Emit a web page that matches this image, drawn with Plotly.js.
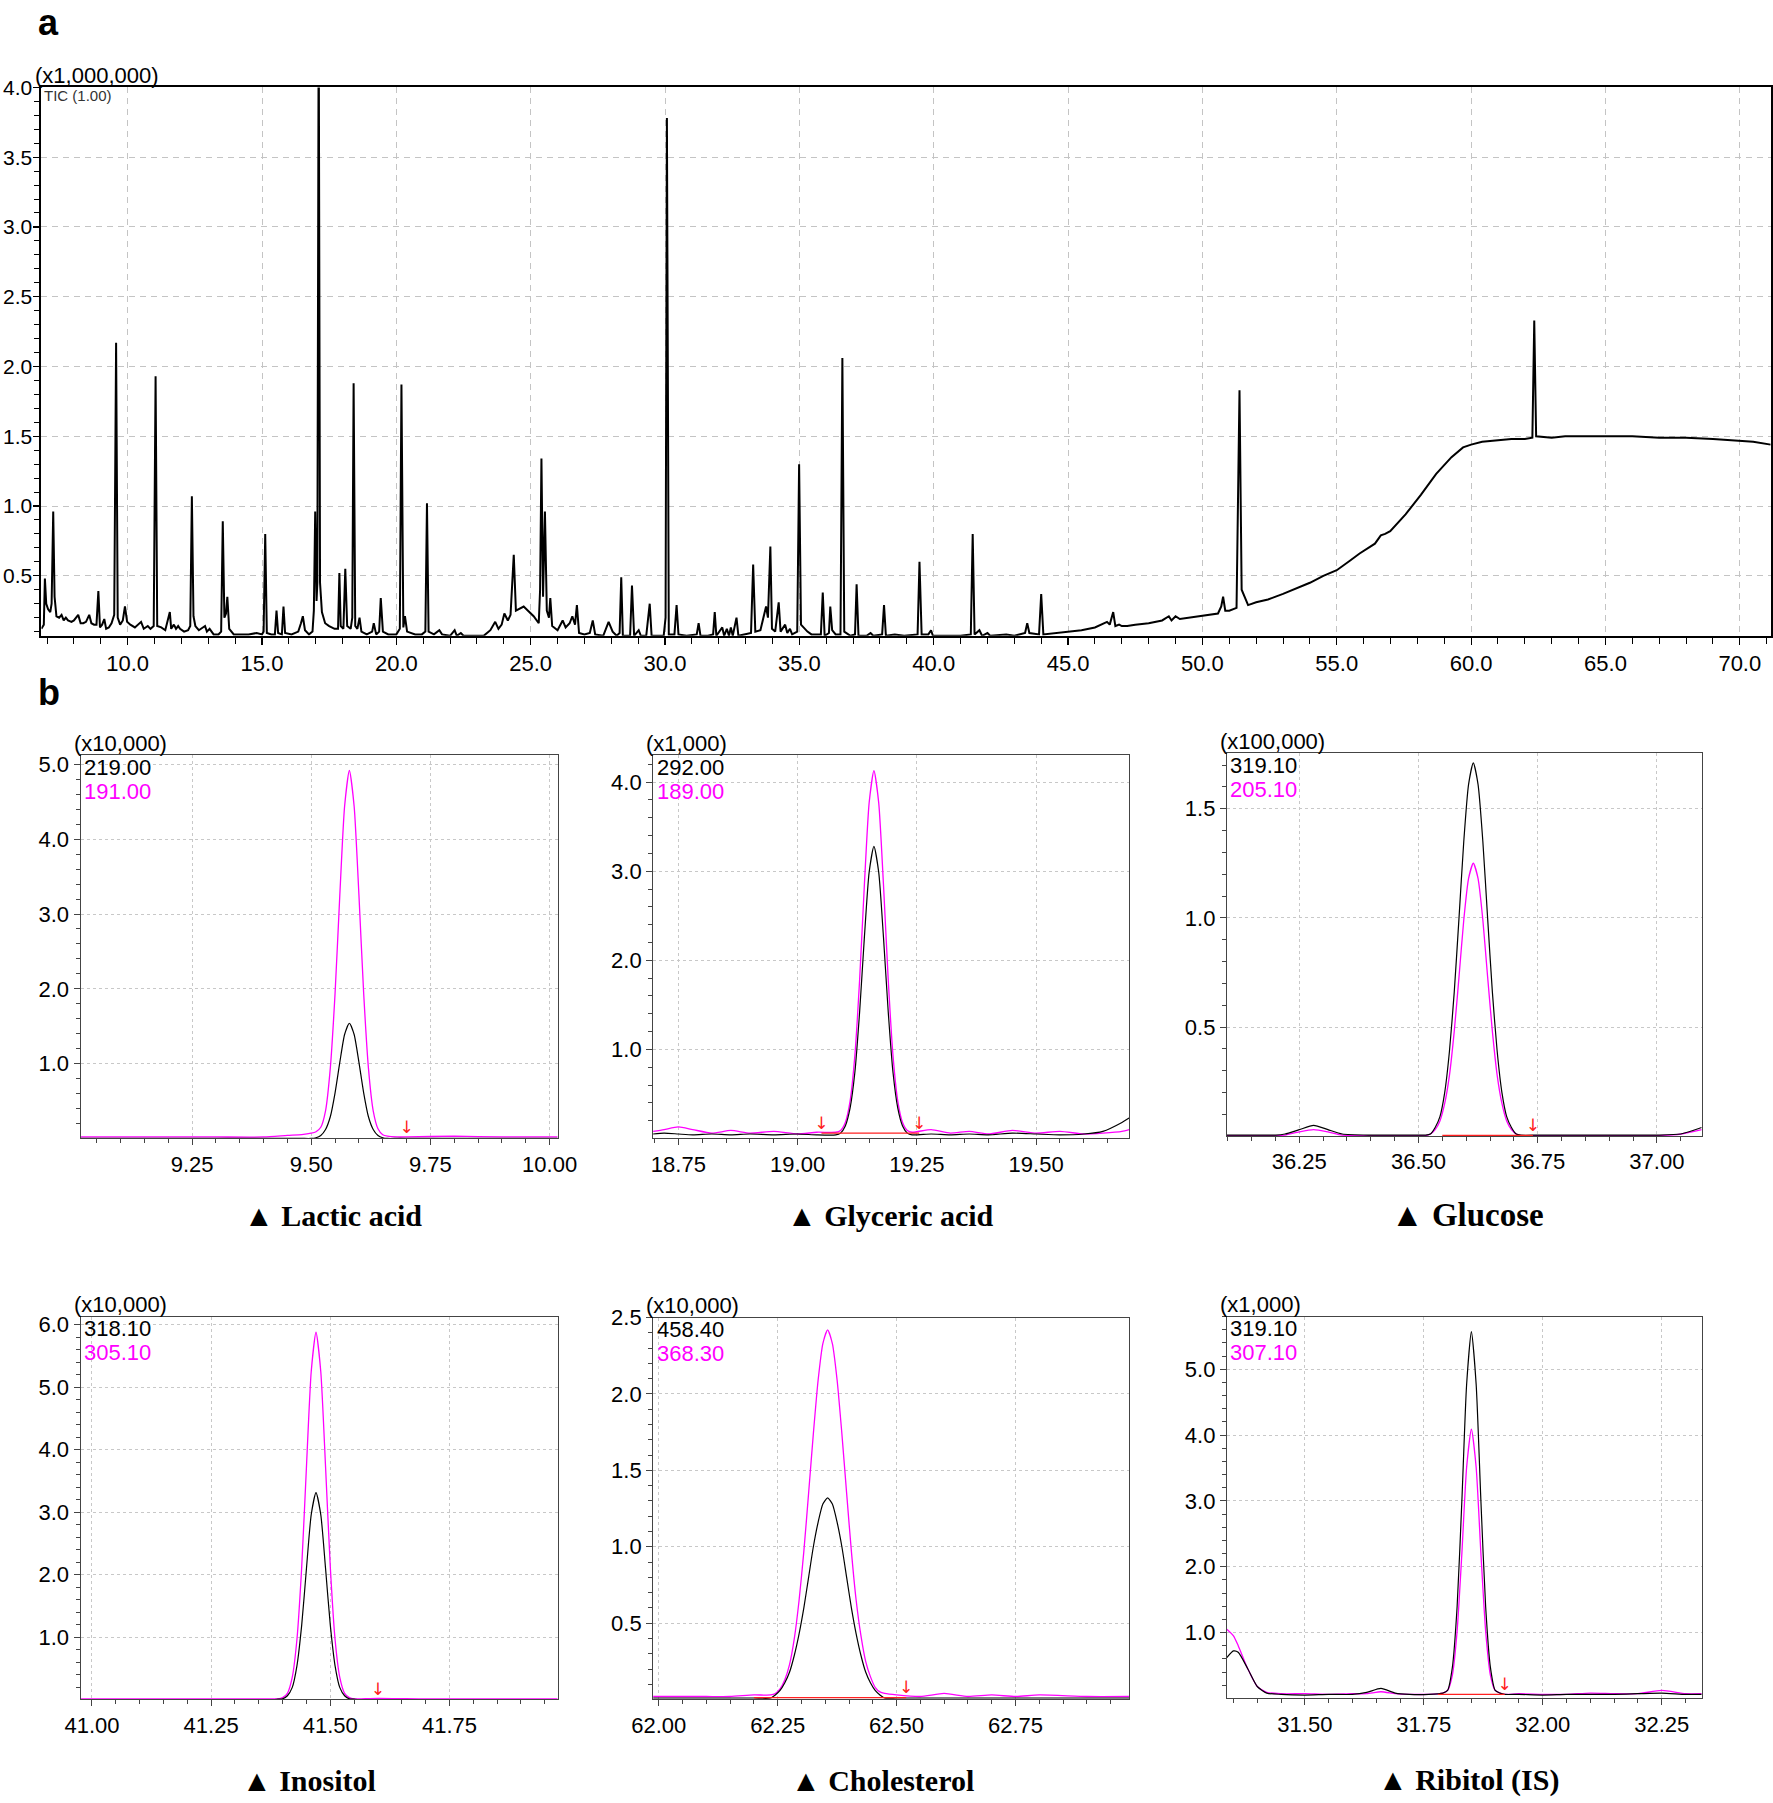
<!DOCTYPE html>
<html>
<head>
<meta charset="utf-8">
<script src="https://cdn.plot.ly/plotly-3.0.1.min.js"></script>
<style>
  html, body { margin: 0; padding: 0; background: #fff; }
  #chart { width: 1773px; height: 1803px; }
</style>
</head>
<body>
<div id="chart"></div>
<script>
// ---- a: total ion chromatogram (x1,000,000) ----
const ticTime = [
  6.79, 6.88, 6.92, 6.97, 7.04, 7.12, 7.17, 7.23, 7.28, 7.35,
  7.45, 7.54, 7.62, 7.70, 7.78, 7.91, 8.00, 8.16, 8.25, 8.35,
  8.45, 8.57, 8.65, 8.75, 8.84, 8.91, 8.97, 9.05, 9.13, 9.20,
  9.30, 9.40, 9.50, 9.57, 9.63, 9.72, 9.82, 9.90, 9.98, 10.10,
  10.27, 10.50, 10.60, 10.75, 10.85, 10.97, 11.04, 11.10, 11.25, 11.40,
  11.57, 11.62, 11.72, 11.80, 11.88, 11.95, 12.10, 12.25, 12.33, 12.39,
  12.45, 12.52, 12.65, 12.88, 12.95, 13.05, 13.20, 13.38, 13.48, 13.54,
  13.60, 13.66, 13.71, 13.78, 13.95, 14.20, 14.50, 14.80, 15.00, 15.06,
  15.12, 15.18, 15.35, 15.48, 15.54, 15.60, 15.74, 15.80, 15.86, 16.10,
  16.35, 16.45, 16.52, 16.60, 16.75, 16.88, 16.93, 16.98, 17.03, 17.06,
  17.11, 17.16, 17.23, 17.35, 17.50, 17.70, 17.83, 17.88, 17.93, 18.03,
  18.10, 18.17, 18.30, 18.36, 18.41, 18.47, 18.55, 18.63, 18.70, 18.90,
  19.10, 19.16, 19.25, 19.36, 19.42, 19.50, 19.70, 20.00, 20.13, 20.19,
  20.26, 20.32, 20.40, 20.70, 20.95, 21.08, 21.14, 21.20, 21.40, 21.60,
  21.70, 22.00, 22.17, 22.25, 22.40, 22.50, 23.00, 23.25, 23.50, 23.60,
  23.68, 23.80, 23.92, 24.02, 24.15, 24.25, 24.37, 24.45, 24.62, 24.74,
  24.90, 25.11, 25.30, 25.35, 25.40, 25.46, 25.53, 25.60, 25.68, 25.73,
  25.80, 26.00, 26.19, 26.30, 26.45, 26.55, 26.65, 26.72, 26.80, 27.00,
  27.20, 27.31, 27.40, 27.70, 27.90, 27.96, 28.05, 28.20, 28.31, 28.37,
  28.43, 28.70, 28.77, 28.85, 29.02, 29.10, 29.30, 29.43, 29.50, 29.95,
  30.02, 30.07, 30.14, 30.35, 30.43, 30.50, 30.80, 31.18, 31.25, 31.32,
  31.60, 31.79, 31.85, 31.91, 32.13, 32.20, 32.30, 32.38, 32.45, 32.52,
  32.66, 32.73, 33.00, 33.20, 33.28, 33.36, 33.55, 33.76, 33.83, 33.92,
  33.98, 34.10, 34.23, 34.30, 34.47, 34.55, 34.65, 34.73, 34.92, 34.99,
  35.06, 35.15, 35.30, 35.45, 35.80, 35.87, 35.94, 36.10, 36.15, 36.22,
  36.35, 36.53, 36.60, 36.67, 36.90, 37.07, 37.13, 37.20, 37.50, 37.65,
  37.75, 38.08, 38.15, 38.22, 38.55, 38.90, 39.40, 39.47, 39.55, 39.80,
  39.90, 39.97, 40.50, 41.00, 41.38, 41.45, 41.52, 41.70, 41.80, 42.00,
  42.10, 42.70, 43.00, 43.40, 43.48, 43.56, 43.92, 44.00, 44.08, 44.50,
  45.00, 45.50, 46.00, 46.45, 46.55, 46.68, 46.76, 46.90, 47.00, 47.20,
  47.50, 48.00, 48.50, 48.75, 48.85, 49.00, 49.16, 49.50, 50.00, 50.30,
  50.58, 50.70, 50.77, 50.85, 51.00, 51.27, 51.38, 51.46, 51.55, 51.70,
  52.00, 52.44, 53.00, 53.50, 54.00, 54.50, 55.00, 55.50, 55.85, 56.42,
  56.55, 56.64, 56.80, 56.99, 57.56, 58.13, 58.70, 59.27, 59.70, 60.00,
  60.41, 61.00, 61.50, 62.00, 62.28, 62.35, 62.42, 63.00, 63.50, 64.00,
  64.50, 65.00, 66.00, 67.00, 68.00, 69.00, 70.00, 70.50, 71.15
];
const ticSignal = [
  0.12, 0.15, 0.48, 0.30, 0.26, 0.24, 0.30, 0.96, 0.35, 0.21,
  0.20, 0.22, 0.18, 0.20, 0.18, 0.17, 0.18, 0.22, 0.16, 0.16,
  0.17, 0.22, 0.16, 0.15, 0.15, 0.39, 0.13, 0.15, 0.19, 0.12,
  0.13, 0.16, 0.22, 2.17, 0.20, 0.15, 0.18, 0.28, 0.17, 0.15,
  0.13, 0.17, 0.12, 0.14, 0.12, 0.14, 1.93, 0.14, 0.13, 0.11,
  0.24, 0.12, 0.15, 0.12, 0.14, 0.12, 0.10, 0.11, 0.14, 1.07,
  0.21, 0.14, 0.11, 0.14, 0.10, 0.12, 0.08, 0.08, 0.10, 0.89,
  0.20, 0.23, 0.35, 0.12, 0.08, 0.08, 0.08, 0.09, 0.08, 0.10,
  0.80, 0.09, 0.08, 0.08, 0.25, 0.09, 0.08, 0.28, 0.09, 0.08,
  0.10, 0.16, 0.21, 0.11, 0.08, 0.10, 0.25, 0.96, 0.32, 0.45,
  4.60, 0.45, 0.24, 0.16, 0.14, 0.12, 0.12, 0.52, 0.14, 0.12,
  0.55, 0.14, 0.12, 0.20, 1.88, 0.14, 0.12, 0.20, 0.10, 0.08,
  0.10, 0.16, 0.08, 0.10, 0.34, 0.10, 0.08, 0.08, 0.12, 1.87,
  0.13, 0.21, 0.10, 0.08, 0.08, 0.10, 1.02, 0.10, 0.08, 0.11,
  0.08, 0.07, 0.11, 0.07, 0.09, 0.07, 0.07, 0.07, 0.11, 0.14,
  0.17, 0.12, 0.15, 0.23, 0.18, 0.22, 0.65, 0.25, 0.27, 0.28,
  0.25, 0.21, 0.16, 0.40, 1.34, 0.35, 0.96, 0.25, 0.20, 0.34,
  0.14, 0.11, 0.18, 0.13, 0.16, 0.21, 0.15, 0.29, 0.09, 0.08,
  0.09, 0.18, 0.08, 0.07, 0.17, 0.14, 0.10, 0.07, 0.09, 0.49,
  0.07, 0.07, 0.43, 0.07, 0.11, 0.07, 0.07, 0.30, 0.07, 0.07,
  0.20, 3.78, 0.08, 0.08, 0.29, 0.08, 0.07, 0.08, 0.16, 0.07,
  0.07, 0.08, 0.24, 0.07, 0.13, 0.07, 0.12, 0.07, 0.13, 0.07,
  0.20, 0.07, 0.08, 0.09, 0.58, 0.10, 0.11, 0.28, 0.20, 0.71,
  0.12, 0.10, 0.31, 0.10, 0.15, 0.09, 0.12, 0.08, 0.10, 1.30,
  0.15, 0.13, 0.10, 0.08, 0.08, 0.38, 0.07, 0.09, 0.28, 0.11,
  0.08, 0.08, 2.06, 0.10, 0.07, 0.08, 0.44, 0.07, 0.07, 0.09,
  0.07, 0.08, 0.29, 0.07, 0.08, 0.07, 0.08, 0.60, 0.08, 0.08,
  0.11, 0.07, 0.07, 0.07, 0.08, 0.80, 0.08, 0.11, 0.07, 0.09,
  0.07, 0.08, 0.07, 0.09, 0.16, 0.09, 0.08, 0.37, 0.08, 0.09,
  0.10, 0.11, 0.13, 0.17, 0.15, 0.24, 0.14, 0.15, 0.14, 0.14,
  0.15, 0.16, 0.18, 0.21, 0.18, 0.21, 0.19, 0.20, 0.21, 0.22,
  0.23, 0.28, 0.35, 0.25, 0.25, 0.27, 1.83, 0.40, 0.36, 0.29,
  0.31, 0.33, 0.37, 0.41, 0.45, 0.50, 0.54, 0.61, 0.66, 0.73,
  0.77, 0.79, 0.80, 0.82, 0.94, 1.08, 1.23, 1.35, 1.42, 1.44,
  1.46, 1.47, 1.48, 1.48, 1.49, 2.33, 1.50, 1.49, 1.50, 1.50,
  1.50, 1.50, 1.50, 1.49, 1.49, 1.48, 1.47, 1.46, 1.44
];

// ---- b: extracted ion chromatograms ----
// Lactic acid (x10,000): m/z 219.00 black, 191.00 magenta
const lacticRt = [9.016, 9.10, 9.20, 9.30, 9.40, 9.45, 9.48, 9.50, 9.51, 9.52, 9.53, 9.54, 9.55, 9.56, 9.57,
  9.58, 9.59, 9.60, 9.61, 9.62, 9.63, 9.64, 9.65, 9.66, 9.68, 9.70, 9.80, 9.90, 10.017];
const lacticIon219 = [0.00, 0.00, 0.00, 0.00, 0.00, 0.00, 0.00, 0.00, 0.01, 0.04, 0.12, 0.29, 0.61, 1.02, 1.39,
  1.54, 1.39, 1.02, 0.61, 0.29, 0.12, 0.04, 0.01, 0.00, 0.00, 0.00, 0.00, 0.00, 0.00];
const lacticIon191 = [0.02, 0.02, 0.02, 0.02, 0.02, 0.04, 0.05, 0.07, 0.09, 0.15, 0.37, 0.94, 1.94, 3.26, 4.44,
  4.92, 4.44, 3.26, 1.94, 0.94, 0.37, 0.13, 0.05, 0.03, 0.02, 0.02, 0.03, 0.02, 0.02];
const lacticBaseRt = [];
const lacticBaseLevel = [];
const lacticMarkRt = [9.70];
const lacticMarkLevel = [0.02];

// Glyceric acid (x1,000): 292.00 black, 189.00 magenta
const glycericRt = [18.697, 18.72, 18.75, 18.78, 18.82, 18.86, 18.90, 18.95, 19.00, 19.04,
  19.08, 19.09, 19.10, 19.11, 19.12, 19.13, 19.14, 19.15, 19.16, 19.17, 19.18, 19.19, 19.20, 19.21, 19.22, 19.23, 19.24,
  19.28, 19.32, 19.36, 19.40, 19.45, 19.50, 19.55, 19.60, 19.64, 19.68, 19.695];
const glycericIon292 = [0.05, 0.06, 0.05, 0.04, 0.05, 0.04, 0.05, 0.04, 0.05, 0.04,
  0.04, 0.06, 0.14, 0.34, 0.74, 1.42, 2.26, 2.99, 3.28, 2.99, 2.26, 1.42, 0.74, 0.34, 0.14, 0.06, 0.04,
  0.05, 0.04, 0.05, 0.04, 0.06, 0.05, 0.04, 0.05, 0.08, 0.18, 0.23];
const glycericIon189 = [0.08, 0.10, 0.13, 0.10, 0.06, 0.09, 0.06, 0.08, 0.05, 0.07,
  0.07, 0.09, 0.18, 0.42, 0.93, 1.78, 2.85, 3.77, 4.13, 3.77, 2.85, 1.78, 0.93, 0.42, 0.18, 0.09, 0.07,
  0.10, 0.06, 0.08, 0.05, 0.09, 0.06, 0.08, 0.05, 0.06, 0.08, 0.10];
const glycericBaseRt = [19.05, 19.255];
const glycericBaseLevel = [0.06, 0.06];
const glycericMarkRt = [19.05, 19.255];
const glycericMarkLevel = [0.06, 0.06];

// Glucose (x100,000): 319.10 black, 205.10 magenta
const glucoseRt = [36.098, 36.15, 36.20, 36.22, 36.25, 36.28, 36.31, 36.34, 36.40, 36.45, 36.50,
  36.515, 36.525, 36.535, 36.545, 36.555, 36.565, 36.575, 36.585, 36.595, 36.605, 36.615,
  36.625, 36.635, 36.645, 36.655, 36.665, 36.675, 36.685, 36.695, 36.705, 36.715,
  36.75, 36.80, 36.90, 37.00, 37.05, 37.094];
const glucoseIon319 = [0.005, 0.005, 0.005, 0.01, 0.03, 0.05, 0.03, 0.01, 0.005, 0.005, 0.005,
  0.005, 0.01, 0.04, 0.09, 0.20, 0.39, 0.66, 1.00, 1.35, 1.61, 1.71,
  1.61, 1.35, 1.00, 0.66, 0.39, 0.20, 0.09, 0.04, 0.01, 0.005,
  0.005, 0.005, 0.005, 0.005, 0.01, 0.04];
const glucoseIon205 = [0.003, 0.003, 0.003, 0.005, 0.02, 0.03, 0.02, 0.005, 0.003, 0.003, 0.003,
  0.003, 0.01, 0.03, 0.07, 0.15, 0.28, 0.48, 0.73, 0.99, 1.18, 1.25,
  1.18, 0.99, 0.73, 0.48, 0.28, 0.15, 0.07, 0.03, 0.01, 0.003,
  0.003, 0.003, 0.003, 0.003, 0.01, 0.03];
const glucoseBaseRt = [36.55, 36.74];
const glucoseBaseLevel = [0.004, 0.004];
const glucoseMarkRt = [36.74];
const glucoseMarkLevel = [0.004];

// Inositol (x10,000): 318.10 black, 305.10 magenta
const inositolRt = [40.976, 41.05, 41.10, 41.20, 41.30, 41.38,
  41.39, 41.40, 41.41, 41.42, 41.43, 41.44, 41.45, 41.46, 41.47, 41.48, 41.49, 41.50, 41.51, 41.52, 41.53, 41.54, 41.55,
  41.56, 41.60, 41.70, 41.80, 41.90, 41.977];
const inositolIon318 = [0.00, 0.00, 0.00, 0.00, 0.00, 0.00,
  0.005, 0.01, 0.06, 0.19, 0.54, 1.19, 2.10, 2.96, 3.31, 2.96, 2.10, 1.19, 0.54, 0.19, 0.06, 0.01, 0.005,
  0.00, 0.00, 0.00, 0.00, 0.00, 0.00];
const inositolIon305 = [0.01, 0.01, 0.01, 0.01, 0.01, 0.01,
  0.01, 0.03, 0.10, 0.35, 0.96, 2.12, 3.73, 5.25, 5.88, 5.25, 3.73, 2.12, 0.96, 0.35, 0.10, 0.03, 0.01,
  0.01, 0.02, 0.01, 0.01, 0.01, 0.01];
const inositolBaseRt = [];
const inositolBaseLevel = [];
const inositolMarkRt = [41.60];
const inositolMarkLevel = [0.01];

// Cholesterol (x10,000): 458.40 black, 368.30 magenta
const cholesterolRt = [61.988, 62.05, 62.10, 62.15, 62.20,
  62.235, 62.245, 62.255, 62.265, 62.275, 62.285, 62.295, 62.305, 62.315, 62.325, 62.335, 62.345, 62.355,
  62.365, 62.375, 62.385, 62.395, 62.405, 62.415, 62.425, 62.435, 62.445, 62.455, 62.465, 62.475,
  62.50, 62.55, 62.60, 62.65, 62.70, 62.75, 62.80, 62.90, 62.989];
const cholesterolIon458 = [0.01, 0.01, 0.01, 0.01, 0.01,
  0.01, 0.03, 0.06, 0.11, 0.18, 0.29, 0.43, 0.60, 0.80, 1.00, 1.16, 1.28, 1.32,
  1.28, 1.16, 1.00, 0.80, 0.60, 0.43, 0.29, 0.18, 0.11, 0.06, 0.03, 0.01,
  0.01, 0.01, 0.01, 0.01, 0.01, 0.01, 0.01, 0.01, 0.01];
const cholesterolIon368 = [0.02, 0.02, 0.02, 0.02, 0.03,
  0.03, 0.04, 0.07, 0.13, 0.23, 0.40, 0.65, 0.97, 1.35, 1.74, 2.09, 2.33, 2.42,
  2.33, 2.09, 1.74, 1.35, 0.97, 0.65, 0.42, 0.25, 0.15, 0.08, 0.05, 0.04,
  0.03, 0.02, 0.04, 0.02, 0.03, 0.02, 0.03, 0.02, 0.02];
const cholesterolBaseRt = [62.20, 62.52];
const cholesterolBaseLevel = [0.012, 0.012];
const cholesterolMarkRt = [62.52];
const cholesterolMarkLevel = [0.012];

// Ribitol, internal standard (x1,000): 319.10 black, 307.10 magenta
const ribitolRt = [31.336, 31.35, 31.36, 31.38, 31.40, 31.42, 31.45, 31.50, 31.55, 31.60, 31.63, 31.66, 31.69, 31.72, 31.76,
  31.79, 31.80, 31.81, 31.82, 31.83, 31.84, 31.85, 31.86, 31.87, 31.88, 31.89, 31.90, 31.91,
  31.92, 31.95, 32.00, 32.05, 32.10, 32.15, 32.20, 32.25, 32.30, 32.334];
const ribitolIon319 = [0.62, 0.72, 0.70, 0.45, 0.18, 0.08, 0.06, 0.05, 0.06, 0.06, 0.09, 0.15, 0.08, 0.06, 0.06,
  0.08, 0.12, 0.47, 1.39, 3.00, 4.77, 5.57, 4.77, 3.00, 1.39, 0.47, 0.12, 0.08,
  0.06, 0.06, 0.05, 0.06, 0.06, 0.06, 0.07, 0.08, 0.06, 0.06];
const ribitolIon307 = [1.05, 0.95, 0.80, 0.45, 0.18, 0.09, 0.07, 0.07, 0.06, 0.07, 0.07, 0.10, 0.07, 0.06, 0.06,
  0.08, 0.12, 0.35, 1.02, 2.20, 3.51, 4.09, 3.51, 2.20, 1.02, 0.35, 0.12, 0.08,
  0.06, 0.07, 0.06, 0.06, 0.08, 0.07, 0.07, 0.12, 0.07, 0.07];
const ribitolBaseRt = [31.78, 31.92];
const ribitolBaseLevel = [0.06, 0.06];
const ribitolMarkRt = [31.92];
const ribitolMarkLevel = [0.06];

// ---- page geometry (pixels of the 1773 x 1803 figure) ----
const W = 1773, H = 1803;
function px(x) { return x / W; }
function py(y) { return 1 - y / H; }

const FONT = 'Liberation Sans, Arial, sans-serif';
const SERIF = 'Liberation Serif, Times New Roman, serif';
const MAGENTA = '#ff00ff';

const panels = [
  { name: '▲ Lactic acid', nameSize: 30, nameAt: [333, 1215], scale: '(x10,000)', ions: ['219.00', '191.00'],
    rt: lacticRt, quant: lacticIon219, qual: lacticIon191,
    baseRt: lacticBaseRt, baseLevel: lacticBaseLevel, markRt: lacticMarkRt, markLevel: lacticMarkLevel,
    xr: [9.016, 10.017], yr: [0.002, 5.12], yStep: 1, yMinor: 0.2, box: [80.5, 557.7, 755.4, 1138.3] },
  { name: '▲ Glyceric acid', nameSize: 30, nameAt: [890, 1215], scale: '(x1,000)', ions: ['292.00', '189.00'],
    rt: glycericRt, quant: glycericIon292, qual: glycericIon189,
    baseRt: glycericBaseRt, baseLevel: glycericBaseLevel, markRt: glycericMarkRt, markLevel: glycericMarkLevel,
    xr: [18.697, 19.695], yr: [0.002, 4.30], yStep: 1, yMinor: 0.2, box: [653.1, 1129.1, 755.4, 1138.3] },
  { name: '▲ Glucose', nameSize: 33, nameAt: [1467, 1215], scale: '(x100,000)', ions: ['319.10', '205.10'],
    rt: glucoseRt, quant: glucoseIon319, qual: glucoseIon205,
    baseRt: glucoseBaseRt, baseLevel: glucoseBaseLevel, markRt: glucoseMarkRt, markLevel: glucoseMarkLevel,
    xr: [36.098, 37.094], yr: [0.001, 1.755], yStep: 0.5, yMinor: 0.1, box: [1226.8, 1701.7, 753, 1136] },
  { name: '▲ Inositol', nameSize: 30, nameAt: [309, 1780], scale: '(x10,000)', ions: ['318.10', '305.10'],
    rt: inositolRt, quant: inositolIon318, qual: inositolIon305,
    baseRt: inositolBaseRt, baseLevel: inositolBaseLevel, markRt: inositolMarkRt, markLevel: inositolMarkLevel,
    xr: [40.976, 41.977], yr: [0.002, 6.13], yStep: 1, yMinor: 0.2, box: [80.5, 557.7, 1316.5, 1699.4] },
  { name: '▲ Cholesterol', nameSize: 30, nameAt: [882, 1780], scale: '(x10,000)', ions: ['458.40', '368.30'],
    rt: cholesterolRt, quant: cholesterolIon458, qual: cholesterolIon368,
    baseRt: cholesterolBaseRt, baseLevel: cholesterolBaseLevel, markRt: cholesterolMarkRt, markLevel: cholesterolMarkLevel,
    xr: [61.988, 62.989], yr: [0.001, 2.5], yStep: 0.5, yMinor: 0.1, box: [653.1, 1129.1, 1317.6, 1699.4] },
  { name: '▲ Ribitol (IS)', nameSize: 30, nameAt: [1468, 1780], scale: '(x1,000)', ions: ['319.10', '307.10'],
    rt: ribitolRt, quant: ribitolIon319, qual: ribitolIon307,
    baseRt: ribitolBaseRt, baseLevel: ribitolBaseLevel, markRt: ribitolMarkRt, markLevel: ribitolMarkLevel,
    xr: [31.336, 32.334], yr: [0.002, 5.80], yStep: 1, yMinor: 0.2, box: [1226.8, 1701.7, 1316.5, 1698.2] }
];

const data = [{
  x: ticTime, y: ticSignal, xaxis: 'x', yaxis: 'y', type: 'scatter', mode: 'lines',
  line: { color: '#000', width: 2 }, hoverinfo: 'x+y'
}];

const layout = {
  width: W, height: H,
  margin: { l: 0, r: 0, t: 0, b: 0 },
  paper_bgcolor: '#fff', plot_bgcolor: '#fff',
  showlegend: false,
  font: { family: FONT, size: 22, color: '#000' },
  xaxis: {
    domain: [px(41.4), px(1770.7)], anchor: 'y', range: [6.79, 71.15],
    tick0: 0, dtick: 5, tickformat: '.1f',
    ticks: 'outside', ticklen: 7, tickwidth: 1.2, tickcolor: '#000',
    showline: true, linecolor: '#000', linewidth: 2, mirror: true,
    showgrid: true, gridcolor: '#c4c4c4', gridwidth: 1, griddash: '6px,5px', zeroline: false,
    minor: { tick0: 0, dtick: 1, ticks: 'outside', ticklen: 6, tickwidth: 1, tickcolor: '#000', showgrid: false },
    tickfont: { size: 22 }
  },
  yaxis: {
    domain: [py(635.8), py(87.4)], anchor: 'x', range: [0.07, 4.0],
    tick0: 0, dtick: 0.5, tickformat: '.1f',
    ticks: 'outside', ticklen: 6, tickwidth: 1.2, tickcolor: '#000',
    showline: true, linecolor: '#000', linewidth: 2, mirror: true,
    showgrid: true, gridcolor: '#c4c4c4', gridwidth: 1, griddash: '6px,5px', zeroline: false,
    minor: { tick0: 0, dtick: 0.1, ticks: 'outside', ticklen: 5, tickwidth: 1, tickcolor: '#000', showgrid: false },
    ticklabelstandoff: -3,
    tickfont: { size: 21 }
  },
  annotations: [
    { text: '<b>a</b>', x: px(36), y: py(45), xref: 'paper', yref: 'paper', xanchor: 'left', yanchor: 'bottom',
      showarrow: false, font: { family: FONT, size: 36 } },
    { text: '<b>b</b>', x: px(36), y: py(715), xref: 'paper', yref: 'paper', xanchor: 'left', yanchor: 'bottom',
      showarrow: false, font: { family: FONT, size: 36 } },
    { text: '(x1,000,000)', x: px(33), y: py(76), xref: 'paper', yref: 'paper', xanchor: 'left', yanchor: 'middle',
      showarrow: false, font: { size: 22 } },
    { text: 'TIC (1.00)', x: px(42), y: py(96), xref: 'paper', yref: 'paper', xanchor: 'left', yanchor: 'middle',
      showarrow: false, font: { size: 15, color: '#333' } }
  ]
};

function subAxis(extra) {
  return Object.assign({
    showline: true, linecolor: '#444', linewidth: 1, mirror: true,
    ticks: 'outside', ticklen: 6, tickwidth: 1, tickcolor: '#444',
    showgrid: true, gridcolor: '#c8c8c8', gridwidth: 1, griddash: '3px,3px',
    zeroline: false, tickfont: { size: 22, color: '#000' }
  }, extra);
}

panels.forEach(function(p, i) {
  const n = i + 2;
  const xa = 'x' + n, ya = 'y' + n;
  const [left, right, top, bottom] = p.box;

  layout['xaxis' + n] = subAxis({
    domain: [px(left), px(right)], anchor: ya, range: p.xr,
    tick0: 0, dtick: 0.25, tickformat: '.2f',
    minor: { tick0: 0, dtick: 0.05, ticks: 'outside', ticklen: 4, tickwidth: 1, tickcolor: '#444', showgrid: false }
  });
  layout['yaxis' + n] = subAxis({
    domain: [py(bottom), py(top)], anchor: xa, range: p.yr,
    tick0: 0, dtick: p.yStep, tickformat: '.1f',
    minor: { tick0: 0, dtick: p.yMinor, ticks: 'outside', ticklen: 4, tickwidth: 1, tickcolor: '#444', showgrid: false }
  });

  // qualifier ion (magenta) under, quantifier ion (black) on top
  data.push({ x: p.rt, y: p.qual, xaxis: xa, yaxis: ya, type: 'scatter', mode: 'lines',
    line: { color: MAGENTA, width: 1.3, shape: 'spline', smoothing: 0.6 } });
  data.push({ x: p.rt, y: p.quant, xaxis: xa, yaxis: ya, type: 'scatter', mode: 'lines',
    line: { color: '#000', width: 1.2, shape: 'spline', smoothing: 0.6 } });
  if (p.baseRt.length) {
    data.push({ x: p.baseRt, y: p.baseLevel, xaxis: xa, yaxis: ya, type: 'scatter', mode: 'lines',
      line: { color: '#ff2020', width: 1.2 } });
  }
  data.push({ x: p.markRt, y: p.markLevel, xaxis: xa, yaxis: ya, type: 'scatter', mode: 'text',
    text: p.markRt.map(function() { return '↓'; }), textposition: 'top center',
    textfont: { color: '#ff2020', size: 17, family: 'DejaVu Sans' }, cliponaxis: false });

  layout.annotations.push(
    { text: p.scale, x: px(left - 9), y: py(top - 12), xref: 'paper', yref: 'paper',
      xanchor: 'left', yanchor: 'middle', showarrow: false, font: { size: 22 } },
    { text: p.ions[0], x: px(left + 1.5), y: py(top + 12), xref: 'paper', yref: 'paper',
      xanchor: 'left', yanchor: 'middle', showarrow: false, font: { size: 22, color: '#000' } },
    { text: p.ions[1], x: px(left + 1.5), y: py(top + 36), xref: 'paper', yref: 'paper',
      xanchor: 'left', yanchor: 'middle', showarrow: false, font: { size: 22, color: MAGENTA } },
    { text: '<b>' + p.name + '</b>', x: px(p.nameAt[0]), y: py(p.nameAt[1]), xref: 'paper', yref: 'paper',
      xanchor: 'center', yanchor: 'middle', showarrow: false, font: { family: SERIF, size: p.nameSize } }
  );
});

Plotly.newPlot('chart', data, layout, { staticPlot: true });
</script>
</body>
</html>
